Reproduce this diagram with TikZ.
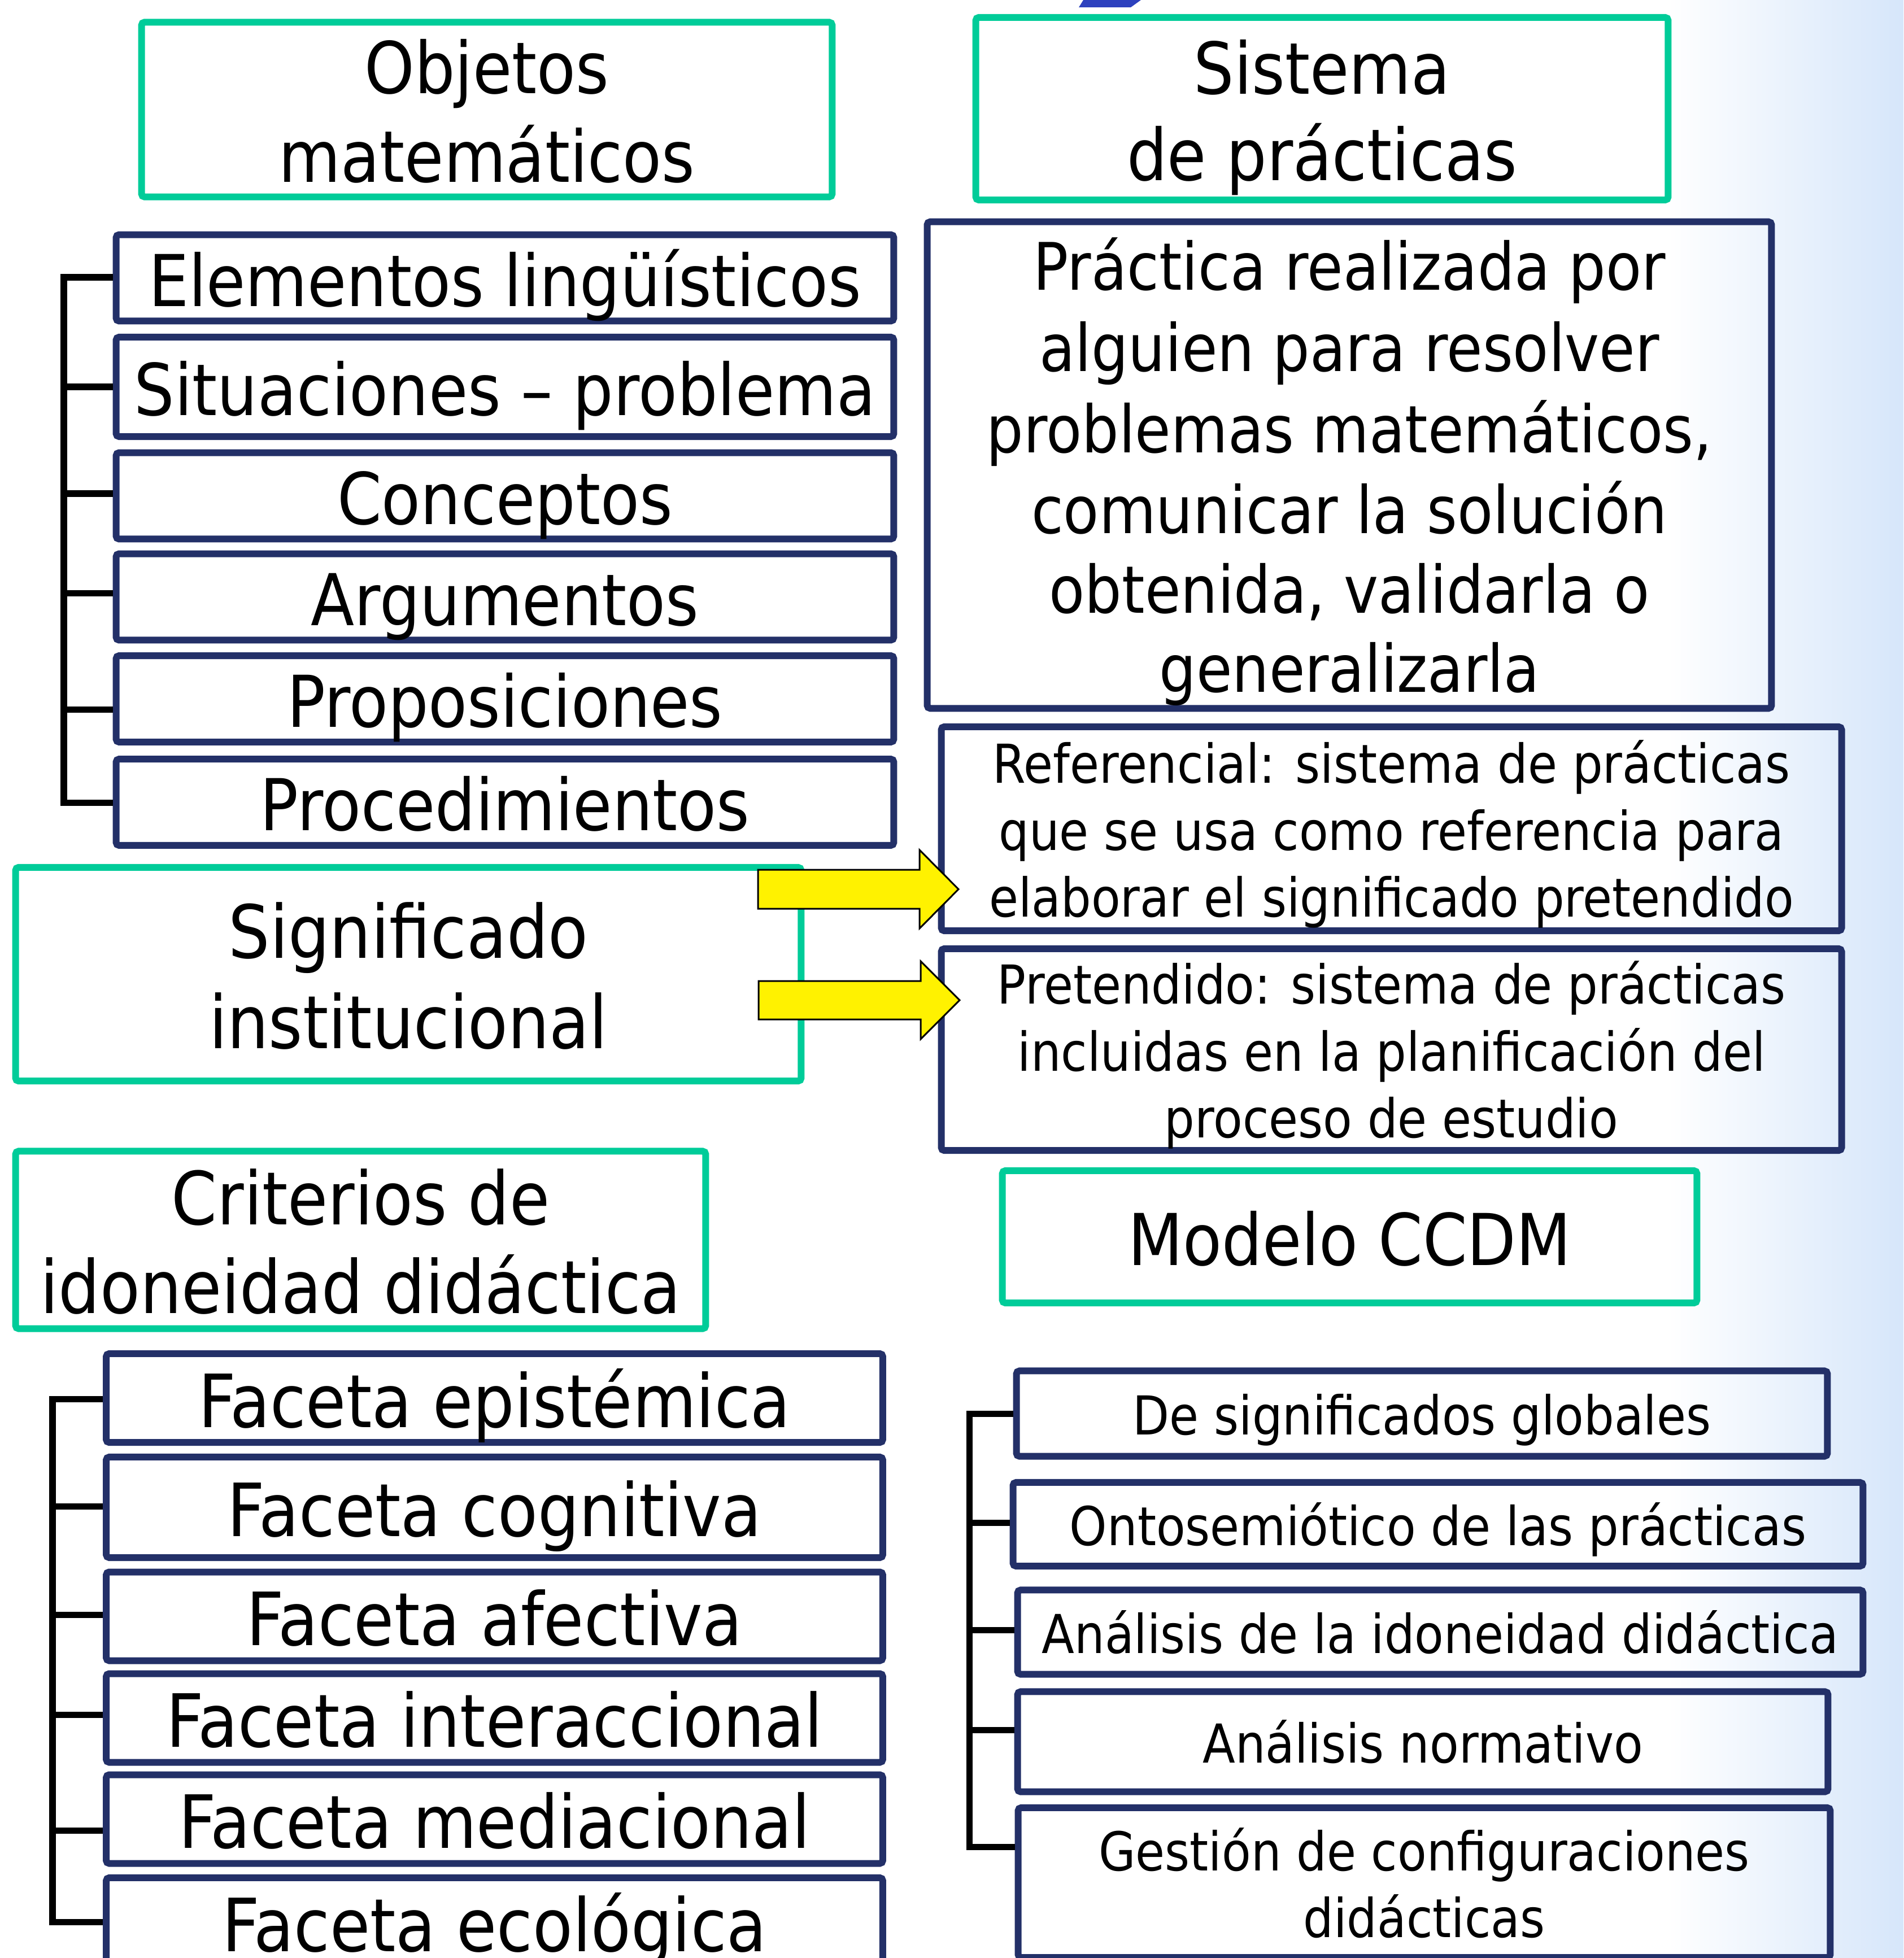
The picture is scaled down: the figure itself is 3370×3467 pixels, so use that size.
\documentclass[tikz,border=0pt]{standalone}
\usepackage{fontspec}
\setmainfont{DejaVu Sans}[FakeStretch=0.89]
\definecolor{grn}{RGB}{0,204,153}
\definecolor{nvy}{RGB}{35,48,104}
\definecolor{gradblue}{RGB}{214,230,250}
\definecolor{sliverblue}{RGB}{45,65,190}
\newcommand\ls{\vrule width 0pt height 0.8285\baselineskip depth 0.1715\baselineskip\relax}
\begin{document}
\begin{tikzpicture}[x=0.01cm,y=-0.01cm,
  gbox/.style={draw=grn,line width=0.12cm,rounded corners=1.5pt,inner sep=0pt,align=center},
  nbox/.style={draw=nvy,line width=0.12cm,rounded corners=1.5pt,inner sep=0pt,align=center},
  fA/.style={font=\fontsize{36pt}{43.45pt}\selectfont},
  fB/.style={font=\fontsize{37pt}{44.66pt}\selectfont},
  fP/.style={font=\fontsize{33pt}{39.83pt}\selectfont},
  fR/.style={font=\fontsize{27pt}{32.59pt}\selectfont},
  brk/.style={draw=black,line width=0.11cm,line join=miter},
  yarr/.style={fill=yellow,draw=black,line width=0.03cm,line join=miter}]
\useasboundingbox (0,0) rectangle (3370,3467);
\fill[white] (0,0) rectangle (3370,3467);
\shade[left color=white,right color=gradblue] (2950,0) rectangle (3370,3467);
\fill[sliverblue] (1918,0) -- (2020,0) -- (2002,13) -- (1910,13) -- cycle;

% titles
\node[gbox,fA,minimum width=12.22cm,minimum height=2.96cm] (obj) at (862,194) {\ls Objetos\\\ls matemáticos};
\node[gbox,fA,minimum width=12.25cm,minimum height=3.23cm] (sis) at (2340.5,192.5) {\ls Sistema\\\ls de prácticas};
\node[gbox,fB,minimum width=13.90cm,minimum height=3.78cm] (sig) at (723,1725) {\ls Significado\\\ls institucional};
\node[gbox,fB,minimum width=12.21cm,minimum height=3.11cm] (cri) at (638.5,2195.5) {\ls Criterios de\\\ls idoneidad didáctica};
\node[gbox,fA,minimum width=12.29cm,minimum height=2.34cm] (mod) at (2389.5,2190) {\ls Modelo CCDM};

% left list
\node[nbox,fA,minimum width=13.76cm,minimum height=1.50cm] (e1) at (894,492) {\ls Elementos lingüísticos};
\node[nbox,fA,minimum width=13.76cm,minimum height=1.76cm] (e2) at (894,685) {\ls Situaciones – problema};
\node[nbox,fA,minimum width=13.76cm,minimum height=1.50cm] (e3) at (894,878) {\ls Conceptos};
\node[nbox,fA,minimum width=13.76cm,minimum height=1.48cm] (e4) at (894,1057) {\ls Argumentos};
\node[nbox,fA,minimum width=13.76cm,minimum height=1.49cm] (e5) at (894,1237.5) {\ls Proposiciones};
\node[nbox,fA,minimum width=13.76cm,minimum height=1.49cm] (e6) at (894,1420.5) {\ls Procedimientos};

% right upper
\node[nbox,fP,minimum width=14.94cm,minimum height=8.61cm] (pra) at (2389,823.5)
  {\ls Práctica realizada por\\\ls alguien para resolver\\\ls problemas matemáticos,\\\ls comunicar la solución\\\ls obtenida, validarla o\\\ls generalizarla};
\node[nbox,fR,minimum width=15.93cm,minimum height=3.61cm] (ref) at (2463.5,1467.5)
  {\ls Referencial: sistema de prácticas\\\ls que se usa como referencia para\\\ls elaborar el significado pretendido};
\node[nbox,fR,minimum width=15.93cm,minimum height=3.57cm] (pre) at (2463.5,1858.5)
  {\ls Pretendido: sistema de prácticas\\\ls incluidas en la planificación del\\\ls proceso de estudio};

% facetas
\node[nbox,fB,minimum width=13.74cm,minimum height=1.51cm] (f1) at (875.5,2475.5) {\ls Faceta epistémica};
\node[nbox,fB,minimum width=13.74cm,minimum height=1.78cm] (f2) at (875.5,2669) {\ls Faceta cognitiva};
\node[nbox,fB,minimum width=13.74cm,minimum height=1.49cm] (f3) at (875.5,2862) {\ls Faceta afectiva};
\node[nbox,fB,minimum width=13.74cm,minimum height=1.49cm] (f4) at (875.5,3042) {\ls Faceta interaccional};
\node[nbox,fB,minimum width=13.74cm,minimum height=1.50cm] (f5) at (875.5,3221) {\ls Faceta mediacional};
\node[nbox,fB,minimum width=13.74cm,minimum height=1.51cm] (f6) at (875.5,3403.5) {\ls Faceta ecológica};

% right list
\node[nbox,fR,minimum width=14.35cm,minimum height=1.51cm] (r1) at (2517.5,2503) {\ls De significados globales};
\node[nbox,fR,minimum width=15.04cm,minimum height=1.48cm] (r2) at (2546,2699) {\ls Ontosemiótico de las prácticas};
\node[nbox,fR,minimum width=14.96cm,minimum height=1.49cm] (r3) at (2550,2890) {\ls Análisis de la idoneidad didáctica};
\node[nbox,fR,minimum width=14.34cm,minimum height=1.77cm] (r4) at (2519,3084) {\ls Análisis normativo};
\node[nbox,fR,minimum width=14.37cm,minimum height=2.65cm] (r5) at (2521.5,3333.5) {\ls Gestión de configuraciones\\\ls didácticas};

% brackets: left list
\coordinate (a1) at (113,491);
\coordinate (a2) at (113,685);
\coordinate (a3) at (113,874);
\coordinate (a4) at (113,1050);
\coordinate (a5) at (113,1256);
\coordinate (a6) at (113,1421);
\draw[brk] (a1 -| e1.west) -- (a1) -- (a6) -- (a6 -| e6.west);
\draw[brk] (a2) -- (a2 -| e2.west);
\draw[brk] (a3) -- (a3 -| e3.west);
\draw[brk] (a4) -- (a4 -| e4.west);
\draw[brk] (a5) -- (a5 -| e5.west);

% brackets: facetas
\coordinate (b1) at (93,2477);
\coordinate (b2) at (93,2667);
\coordinate (b3) at (93,2859);
\coordinate (b4) at (93,3036);
\coordinate (b5) at (93,3241);
\coordinate (b6) at (93,3403);
\draw[brk] (b1 -| f1.west) -- (b1) -- (b6) -- (b6 -| f6.west);
\draw[brk] (b2) -- (b2 -| f2.west);
\draw[brk] (b3) -- (b3 -| f3.west);
\draw[brk] (b4) -- (b4 -| f4.west);
\draw[brk] (b5) -- (b5 -| f5.west);

% brackets: right list
\coordinate (c1) at (1716,2503);
\coordinate (c2) at (1716,2696);
\coordinate (c3) at (1716,2886);
\coordinate (c4) at (1716,3063);
\coordinate (c5) at (1716,3270);
\draw[brk] (c1 -| r1.west) -- (c1) -- (c5) -- (c5 -| r5.west);
\draw[brk] (c2) -- (c2 -| r2.west);
\draw[brk] (c3) -- (c3 -| r3.west);
\draw[brk] (c4) -- (c4 -| r4.west);

% yellow block arrows
\coordinate (y1) at (1342,1574.5);
\coordinate (y2) at (1343,1771);
\draw[yarr] (y1) ++(0,-34.5) -- ++(286,0) -- ++(0,-35) -- ++(69,69.5) -- ++(-69,69.5) -- ++(0,-35) -- ++(-286,0) -- cycle;
\draw[yarr] (y2) ++(0,-34) -- ++(287,0) -- ++(0,-35) -- ++(69,69) -- ++(-69,69) -- ++(0,-35) -- ++(-287,0) -- cycle;
\end{tikzpicture}
\end{document}
